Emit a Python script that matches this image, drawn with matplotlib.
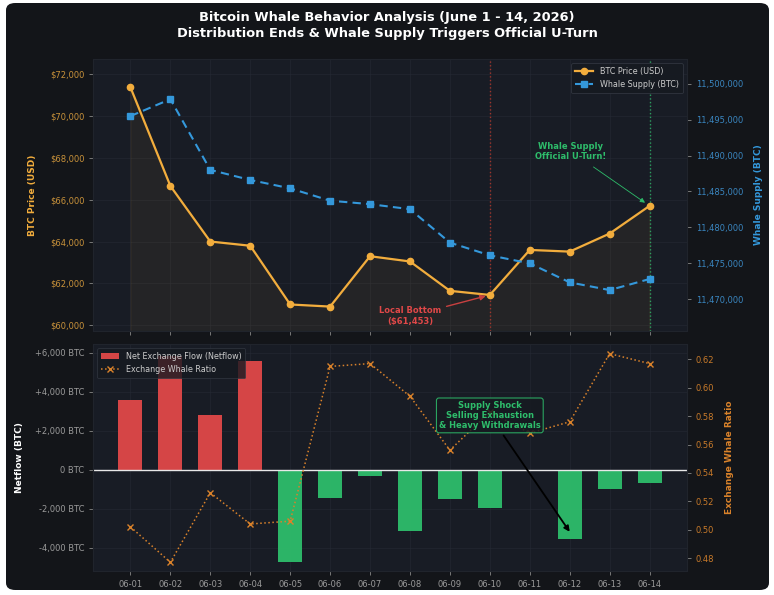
import matplotlib
matplotlib.use("Agg")
import matplotlib.pyplot as plt
from matplotlib.patches import FancyBboxPatch
from matplotlib.ticker import FuncFormatter
import numpy as np

dates = ["06-01", "06-02", "06-03", "06-04", "06-05", "06-06", "06-07",
         "06-08", "06-09", "06-10", "06-11", "06-12", "06-13", "06-14"]
btc_price = [71350, 66650, 64000, 63800, 61000, 60900, 63300,
             63050, 61650, 61453, 63600, 63520, 64380, 65700]
whale_supply = [11495500, 11497850, 11488000, 11486600, 11485430, 11483710, 11483230,
                11482530, 11477870, 11476100, 11474980, 11472330, 11471260, 11472800]
netflow = [3600, 5850, 2820, 5580, -4700, -1440, -300,
           -3130, -1490, -1950, 0, -3530, -970, -670]
whale_ratio = [0.502, 0.477, 0.526, 0.504, 0.506, 0.615, 0.617,
               0.594, 0.556, 0.583, 0.568, 0.576, 0.624, 0.617]

FIG_BG = "#131519"
AX_BG = "#181c25"
ORANGE = "#f2ad3d"
BLUE = "#3498db"
RED = "#e04848"
GREEN = "#2ebd6b"
RATIO_C = "#d9822b"
GRID = "#262b36"

W, H = 774, 595
fig = plt.figure(figsize=(W / 100, H / 100), dpi=100)
fig.patch.set_facecolor("white")
bg = FancyBboxPatch((6 / W, 5 / H), 763 / W, 587 / H,
                    boxstyle="round,pad=0,rounding_size=0.012",
                    transform=fig.transFigure, facecolor=FIG_BG, edgecolor="none", zorder=-10)
fig.patches.append(bg)

def fax(l, t, r, b):
    return [l / W, 1 - b / H, (r - l) / W, (b - t) / H]

ax1 = fig.add_axes(fax(93.3, 59, 686.7, 330.7))
ax3 = fig.add_axes(fax(93.3, 344, 686.7, 570.7), sharex=ax1)
ax2 = ax1.twinx()
ax4 = ax3.twinx()

x = np.arange(len(dates))

for a in (ax1, ax3):
    a.set_facecolor(AX_BG)
    a.grid(True, color=GRID, lw=0.6, alpha=0.6)
    a.set_axisbelow(True)
for a in (ax1, ax2, ax3, ax4):
    for s in a.spines.values():
        s.set_color("#20242c")
    a.tick_params(colors="#888888", labelsize=6, length=3, width=0.6)

# --- top panel ---
l1, = ax1.plot(x, btc_price, color=ORANGE, lw=1.6, marker="o", ms=4.5, label="BTC Price (USD)", zorder=5)
ax1.fill_between(x, btc_price, 59000, color=ORANGE, alpha=0.06, zorder=1)
l2, = ax2.plot(x, whale_supply, color=BLUE, lw=1.5, ls="--", dashes=(4, 2.5), marker="s", ms=4,
               label="Whale Supply (BTC)", zorder=4)
ax1.set_xlim(-0.93, 13.93)
ax1.set_ylim(59750, 72700)
ax2.set_ylim(11465600, 11503450)
ax1.set_yticks(np.arange(60000, 72001, 2000))
ax2.set_yticks(np.arange(11470000, 11500001, 5000))
ax1.yaxis.set_major_formatter(FuncFormatter(lambda v, p: f"${v:,.0f}"))
ax2.yaxis.set_major_formatter(FuncFormatter(lambda v, p: f"{v:,.0f}"))
ax1.tick_params(axis="y", labelcolor="#c9923a")
ax2.tick_params(axis="y", labelcolor="#3a86c0")
ax1.tick_params(axis="x", labelbottom=False)
ax1.set_ylabel("BTC Price (USD)", color=ORANGE, fontsize=6.5, fontweight="bold", labelpad=9)
ax2.set_ylabel("Whale Supply (BTC)", color=BLUE, fontsize=6.5, fontweight="bold", labelpad=8)
ax2.grid(False)

ax1.axvline(9, color="#c0392b", ls=":", lw=1.0, alpha=0.8, zorder=2)
ax1.axvline(13, color=GREEN, ls=":", lw=1.0, alpha=0.8, zorder=2)

ax1.annotate("Local Bottom\n($61,453)", xy=(9, btc_price[9]), xytext=(7.0, 60450),
             color="#e04848", fontsize=6, fontweight="bold", ha="center", va="center",
             arrowprops=dict(arrowstyle="-|>", color="#c84040", lw=1.0, mutation_scale=8,
                             shrinkA=2, shrinkB=3), zorder=6)
ax1.annotate("Whale Supply\nOfficial U-Turn!", xy=(13, btc_price[13]), xytext=(11.03, 68300),
             color=GREEN, fontsize=6, fontweight="bold", ha="center", va="center",
             arrowprops=dict(arrowstyle="-|>", color=GREEN, lw=0.6, mutation_scale=7,
                             shrinkA=4, shrinkB=4), zorder=6)

leg1 = ax2.legend([l1, l2], ["BTC Price (USD)", "Whale Supply (BTC)"], loc="upper right",
                  fontsize=5.8, facecolor="#161a21", edgecolor="#333842", framealpha=0.9,
                  labelcolor="#cccccc", borderpad=0.5, handlelength=2.2)
leg1.get_frame().set_linewidth(0.6)

# --- bottom panel ---
colors = [RED if v > 0 else GREEN for v in netflow]
bars = ax3.bar(x, netflow, width=0.6, color=colors, alpha=0.95, zorder=3, label="Net Exchange Flow (Netflow)")
ax3.axhline(0, color="#e8e8e8", lw=1.0, zorder=4)
l4, = ax4.plot(x, whale_ratio, color=RATIO_C, lw=1.1, ls=":", marker="x", ms=4, mew=1.0,
               label="Exchange Whale Ratio", zorder=5)
ax3.set_ylim(-5170, 6447)
ax4.set_ylim(0.4711, 0.6308)
ax3.set_yticks(np.arange(-4000, 6001, 2000))
ax4.set_yticks(np.arange(0.48, 0.621, 0.02))
ax3.yaxis.set_major_formatter(FuncFormatter(lambda v, p: "0 BTC" if abs(v) < 1 else f"{v:+,.0f} BTC"))
ax4.yaxis.set_major_formatter(FuncFormatter(lambda v, p: f"{v:.2f}"))
ax3.tick_params(axis="y", labelcolor="#9a9a9a")
ax4.tick_params(axis="y", labelcolor="#c87a2a")
ax3.set_xticks(x)
ax3.set_xticklabels(dates)
ax3.tick_params(axis="x", labelcolor="#9a9a9a")
ax3.set_ylabel("Netflow (BTC)", color="white", fontsize=6.5, fontweight="bold", labelpad=8)
ax4.set_ylabel("Exchange Whale Ratio", color=RATIO_C, fontsize=6.5, fontweight="bold", labelpad=8)
ax4.grid(False)

ax4.annotate("Supply Shock\nSelling Exhaustion\n& Heavy Withdrawals",
             xy=(11, 0.4985), xytext=(9.0, 0.5805),
             color=GREEN, fontsize=6, fontweight="bold", ha="center", va="center",
             bbox=dict(boxstyle="round,pad=0.3", facecolor="#161a21", edgecolor=GREEN, alpha=0.85, lw=0.8),
             arrowprops=dict(arrowstyle="-|>", color="black", lw=1.3, mutation_scale=8,
                             shrinkA=2, shrinkB=0), zorder=7)

leg2 = ax4.legend([bars, l4], ["Net Exchange Flow (Netflow)", "Exchange Whale Ratio"], loc="upper left",
                  fontsize=5.8, facecolor="#161a21", edgecolor="#333842", framealpha=0.8,
                  labelcolor="#cccccc", borderpad=0.5, handlelength=2.2)
leg2.get_frame().set_linewidth(0.6)

fig.text(0.5, 1 - 18 / H, "Bitcoin Whale Behavior Analysis (June 1 - 14, 2026)", ha="center", va="center",
         color="white", fontsize=9.4, fontweight="bold")
fig.text(0.5, 1 - 33 / H, "Distribution Ends & Whale Supply Triggers Official U-Turn", ha="center", va="center",
         color="white", fontsize=9.4, fontweight="bold")

fig.savefig("out.png", dpi=100, facecolor=fig.get_facecolor())
